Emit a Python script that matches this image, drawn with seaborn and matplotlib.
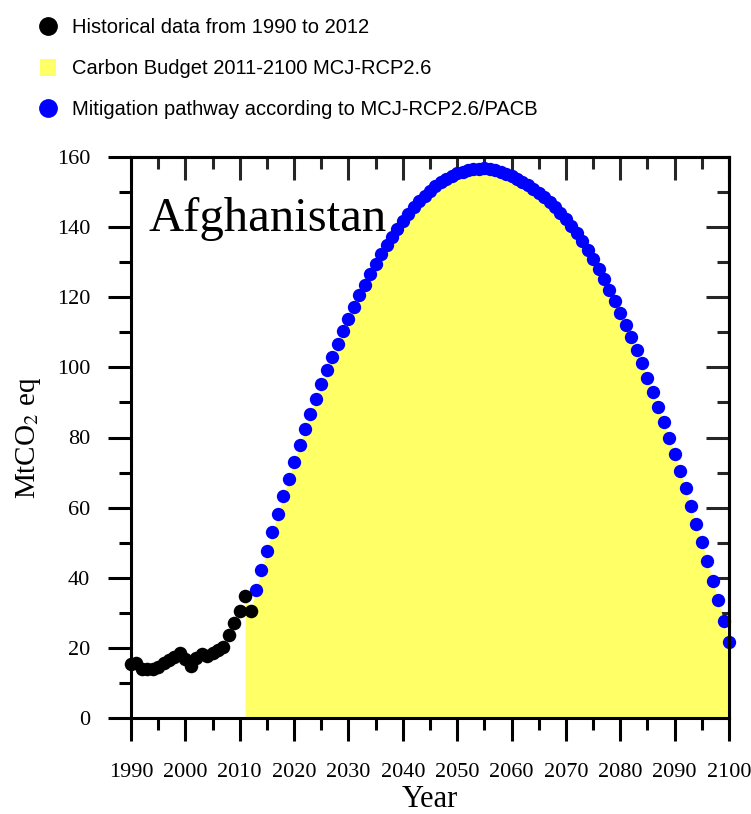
import matplotlib
matplotlib.use("Agg")
import matplotlib.pyplot as plt
import seaborn as sns
import numpy as np
import pandas as pd
from matplotlib.lines import Line2D
from matplotlib.patches import Patch
from matplotlib.ticker import MultipleLocator
from matplotlib import font_manager

# ---------------- data ----------------
country = "Afghanistan"
hist_years = list(range(1990, 2013))
hist_vals = [15.3, 15.8, 13.9, 13.9, 14.0, 14.5, 15.6, 16.6, 17.5, 18.5, 16.8, 14.8,
             17.0, 18.2, 17.7, 18.6, 19.4, 20.2, 23.7, 27.0, 30.6, 34.9, 30.6]

path_years = list(range(2013, 2101))
path_vals = [36.5, 42.2, 47.7, 53.0, 58.3, 63.3, 68.3, 73.1, 77.8, 82.3,
             86.7, 91.0, 95.2, 99.2, 103.1, 106.8, 110.4, 113.9, 117.3, 120.5,
             123.6, 126.6, 129.5, 132.2, 134.8, 137.3, 139.6, 141.8, 143.8, 145.7,
             147.4, 149.0, 150.4, 151.7, 152.8, 153.8, 154.6, 155.3, 155.8, 156.2,
             156.5, 156.7, 156.8, 156.6, 156.3, 155.8, 155.2, 154.5, 153.7, 152.8,
             151.9, 150.9, 149.8, 148.5, 147.1, 145.6, 143.9, 142.2, 140.3, 138.2,
             136.0, 133.5, 130.9, 128.1, 125.2, 122.1, 118.9, 115.6, 112.1, 108.6,
             105.0, 101.2, 97.1, 92.9, 88.8, 84.4, 80.0, 75.4, 70.5, 65.6,
             60.6, 55.3, 50.1, 44.7, 39.2, 33.7, 27.8, 21.8]

budget_years = [2011, 2012] + path_years
budget_vals = [34.9, 30.6] + path_vals

legend_labels = ["Historical data from 1990 to 2012",
                 "Carbon Budget 2011-2100 MCJ-RCP2.6",
                 "Mitigation pathway according to MCJ-RCP2.6/PACB"]
x_ticks = list(range(1990, 2101, 10))
y_ticks = list(range(0, 161, 20))
x_label = "Year"
y_label = "MtCO$_2$ eq"

# ---------------- style ----------------
sns.set_theme(style="white")
plt.rcParams["font.family"] = ["Liberation Serif", "DejaVu Serif"]
plt.rcParams["mathtext.fontset"] = "stix"
plt.rcParams["text.color"] = "black"
plt.rcParams["axes.labelcolor"] = "black"

installed = {f.name for f in font_manager.fontManager.ttflist}
legend_font = ["Liberation Sans Narrow", "Liberation Sans", "DejaVu Sans"]
leg_size = 16.5
if "Liberation Sans Narrow" not in installed:
    legend_font = ["Liberation Sans", "DejaVu Sans"]
    leg_size = 14.5

YELLOW = "#FFFF66"
BLUE = "#0000FF"

W, H = 751, 814
fig = plt.figure(figsize=(W / 100, H / 100), dpi=100)
ax = fig.add_axes([131 / W, 1 - 718 / H, (729 - 131) / W, (718 - 157) / H])

hist_df = pd.DataFrame({"Year": hist_years, "Value": hist_vals})
path_df = pd.DataFrame({"Year": path_years, "Value": path_vals})

ax.fill_between(budget_years, 0, budget_vals, color=YELLOW, linewidth=0, zorder=1)
sns.scatterplot(data=path_df, x="Year", y="Value", color=BLUE, s=92, linewidth=0,
                clip_on=False, zorder=3, ax=ax)
sns.scatterplot(data=hist_df, x="Year", y="Value", color="black", s=95, linewidth=0,
                clip_on=False, zorder=4, ax=ax)

ax.set_xlim(1990, 2100)
ax.set_ylim(0, 160)
ax.set_xticks(x_ticks)
ax.set_yticks(y_ticks)
ax.xaxis.set_minor_locator(MultipleLocator(5))
ax.yaxis.set_minor_locator(MultipleLocator(10))

for sp in ax.spines.values():
    sp.set_linewidth(2.2)
    sp.set_color("black")
    sp.set_zorder(5)

ax.tick_params(which="major", direction="out", length=16.5, width=2.2, color="black",
               labelsize=16, labelcolor="black", bottom=True, left=True, top=False, right=False)
ax.tick_params(which="minor", direction="out", length=8.6, width=2.2, color="black",
               bottom=True, left=True, top=False, right=False)
ax.tick_params(axis="x", which="major", pad=16)
ax.tick_params(axis="y", which="major", pad=13)

# mirrored inward ticks on top and right
top = ax.secondary_xaxis("top")
top.set_xticks(x_ticks)
top.xaxis.set_minor_locator(MultipleLocator(5))
top.tick_params(which="major", direction="in", length=16.5, width=2.2, labeltop=False)
top.tick_params(which="minor", direction="in", length=8.6, width=2.2)
top.spines["top"].set_linewidth(2.2)

right = ax.secondary_yaxis("right")
right.set_yticks(y_ticks)
right.yaxis.set_minor_locator(MultipleLocator(10))
right.tick_params(which="major", direction="in", length=16.5, width=2.2, labelright=False)
right.tick_params(which="minor", direction="in", length=8.6, width=2.2)
right.spines["right"].set_linewidth(2.2)

ax.set_xlabel(x_label, fontsize=22, labelpad=2)
ax.set_ylabel(y_label, fontsize=21, labelpad=10)

ax.text(0.030, 0.868, country, transform=ax.transAxes, fontsize=35,
        va="baseline", ha="left", color="black", zorder=6)

handles = [
    Line2D([], [], marker="o", linestyle="none", color="black", markersize=12.5),
    Patch(facecolor=YELLOW, edgecolor="none"),
    Line2D([], [], marker="o", linestyle="none", color=BLUE, markersize=12.5),
]
em = leg_size * 100 / 72
hl = 16 / em
x0 = 48 - 8
leg = fig.legend(handles, legend_labels, loc="upper left",
                 bbox_to_anchor=(x0 / W, 1 - 18 / H), frameon=False,
                 borderpad=0, borderaxespad=0, handlelength=hl, handleheight=hl * 1.15,
                 handletextpad=(72 - x0 - 16) / em, labelspacing=(43 - 1.06 * em) / em,
                 prop={"family": legend_font, "size": leg_size})
for t in leg.get_texts():
    t.set_color("black")

fig.savefig("out.png", dpi=100)
